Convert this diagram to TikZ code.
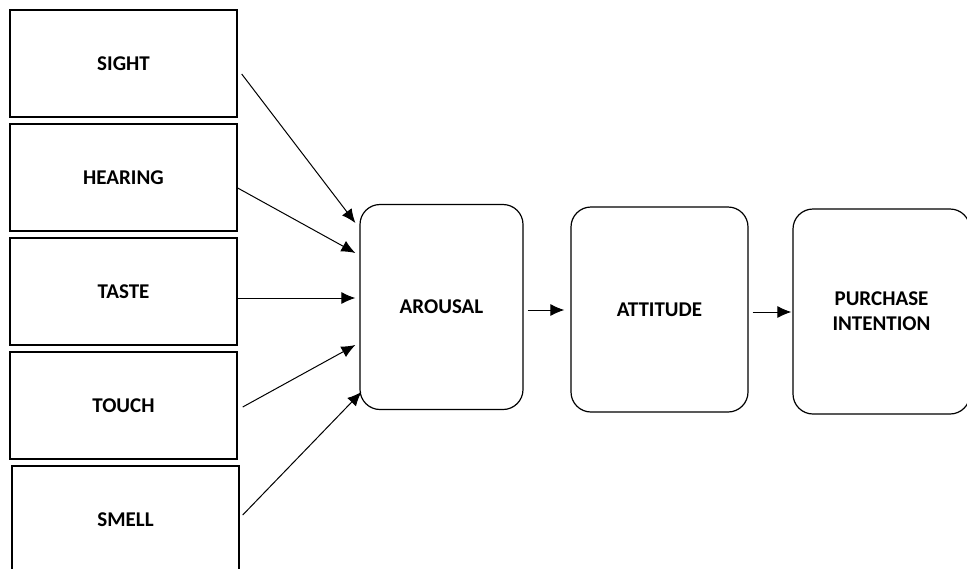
\documentclass[tikz,border=0pt]{standalone}
\usepackage{fontspec}
\setmainfont{Carlito}
\usepackage{tikz}
\usetikzlibrary{arrows.meta}

\begin{document}
\begin{tikzpicture}[x=0.5pt,y=-0.5pt,
    sense/.style={draw,line width=0.7pt,minimum width=113.5pt,minimum height=53.5pt,
      font=\fontsize{10.5}{12.5}\selectfont\bfseries},
    stage/.style={draw,rounded corners=10pt,line width=0.6pt,minimum height=102.5pt,
      align=center,font=\fontsize{10.5}{12.5}\selectfont\bfseries},
    link/.style={-{Latex[length=7pt,width=6pt]},line width=0.5pt}]
    \useasboundingbox (0,0) rectangle (967,568);
    % the five senses
    \node [sense] (sight)   at (123.5,63.5)  {SIGHT};
    \node [sense] (hearing) at (123.5,177.5) {HEARING};
    \node [sense] (taste)   at (123.5,291.5) {TASTE};
    \node [sense] (touch)   at (123.5,405.5) {TOUCH};
    \node [sense] (smell)   at (125.5,519.5) {SMELL};
    % the chain
    \node [stage,minimum width=81.5pt] (arousal)  at (441.5,307)   {AROUSAL};
    \node [stage,minimum width=88.5pt] (attitude) at (659.5,309.5) {ATTITUDE};
    \node [stage,minimum width=88.5pt] (purchase) at (881.5,311.5) {PURCHASE\\INTENTION};
    \draw [link] ([shift={(2pt,-5.25pt)}]sight.east)    -- ([shift={(-2pt,42pt)}]arousal.west);
    \draw [link] ([shift={(0pt,-5.25pt)}]hearing.east)  -- ([shift={(-2pt,27pt)}]arousal.west);
    \draw [link] ([shift={(0pt,-3.25pt)}]taste.east)    -- ([shift={(-2pt,4.5pt)}]arousal.west);
    \draw [link] ([shift={(2.5pt,-0.75pt)}]touch.east)  -- ([shift={(-2pt,-19pt)}]arousal.west);
    \draw [link] ([shift={(1.5pt,2.25pt)}]smell.east)   -- ([shift={(1pt,-42.5pt)}]arousal.west);
    \draw [link] ([shift={(2pt,-1.5pt)}]arousal.east)   -- ([shift={(-3pt,-0.25pt)}]attitude.west);
    \draw [link] ([shift={(2pt,-1.25pt)}]attitude.east) -- ([shift={(-0.5pt,-0.25pt)}]purchase.west);
\end{tikzpicture}
\end{document}
